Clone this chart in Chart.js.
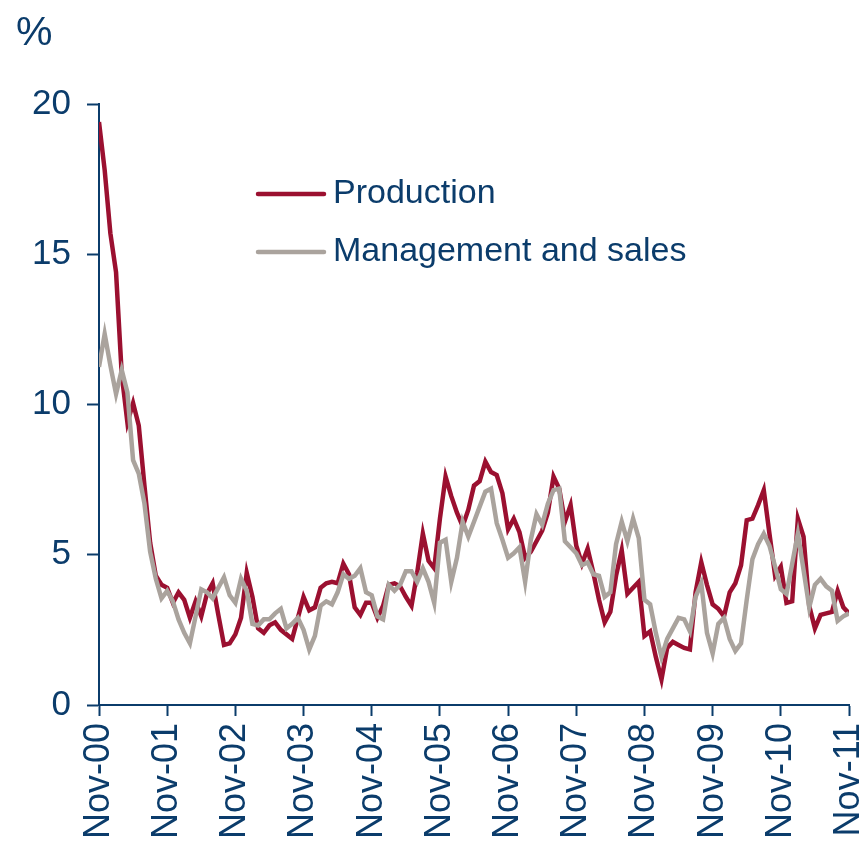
<!DOCTYPE html>
<html>
<head>
<meta charset="utf-8">
<script src="https://cdn.jsdelivr.net/npm/chart.js@4/dist/chart.umd.min.js"></script>
<style>
  html, body { margin: 0; padding: 0; background: #fff; }
  canvas { display: block; }
</style>
</head>
<body>
<canvas id="chart" width="861" height="842"></canvas>
<script>
const yearTicks = ['Nov-00', 'Nov-01', 'Nov-02', 'Nov-03', 'Nov-04', 'Nov-05',
  'Nov-06', 'Nov-07', 'Nov-08', 'Nov-09', 'Nov-10', 'Nov-11'];

const seriesNames = ['Production', 'Management and sales'];

// monthly values, Nov-00 .. Nov-11
const production = [
  19.4, 17.8, 15.7, 14.4, 11.0, 9.4, 10.05, 9.3, 7.3, 5.4,
  4.3, 4.0, 3.9, 3.4, 3.75, 3.5, 2.9, 3.45, 2.95, 3.7,
  4.05, 3.0, 2.0, 2.05, 2.35, 2.9, 4.4, 3.6, 2.55, 2.4,
  2.65, 2.75, 2.5, 2.35, 2.2, 2.9, 3.6, 3.15, 3.25, 3.9,
  4.05, 4.1, 4.05, 4.7, 4.35, 3.25, 3.0, 3.4, 3.4, 2.9,
  3.3, 4.0, 4.05, 3.95, 3.6, 3.3, 4.4, 5.7, 4.8, 4.55,
  6.2, 7.6, 6.95, 6.4, 5.95, 6.5, 7.3, 7.45, 8.1, 7.75,
  7.65, 7.05, 5.85, 6.2, 5.75, 4.9, 5.1, 5.45, 5.8, 6.4,
  7.6, 7.2, 6.1, 6.65, 5.3, 4.7, 5.2, 4.4, 3.5, 2.75,
  3.1, 4.3, 5.15, 3.7, 3.9, 4.1, 2.3, 2.45, 1.6, 0.85,
  1.9, 2.1, 2.0, 1.9, 1.85, 3.75, 4.75, 4.0, 3.35, 3.2,
  2.95, 3.75, 4.05, 4.65, 6.15, 6.2, 6.65, 7.15, 5.7, 4.3,
  4.6, 3.4, 3.45, 6.2, 5.6, 3.3, 2.55, 3.0, 3.05, 3.1,
  3.8, 3.25, 3.05
];

const management = [
  11.25, 12.35, 11.3, 10.35, 11.15, 10.4, 8.15, 7.7, 6.7, 5.1,
  4.2, 3.55, 3.8, 3.45, 2.85, 2.4, 2.05, 2.95, 3.85, 3.75,
  3.55, 3.9, 4.25, 3.65, 3.4, 4.2, 3.8, 2.7, 2.65, 2.85,
  2.85, 3.05, 3.2, 2.55, 2.7, 2.9, 2.5, 1.85, 2.3, 3.3,
  3.45, 3.35, 3.75, 4.35, 4.2, 4.3, 4.55, 3.75, 3.65, 2.95,
  2.85, 4.0, 3.8, 4.0, 4.45, 4.45, 4.1, 4.55, 4.1, 3.4,
  5.4, 5.5, 4.1, 4.9, 6.1, 5.6, 6.1, 6.6, 7.1, 7.2,
  6.05, 5.5, 4.9, 5.05, 5.25, 4.1, 5.5, 6.35, 6.0, 6.7,
  7.15, 7.2, 5.45, 5.25, 5.05, 4.65, 4.75, 4.35, 4.3, 3.6,
  3.75, 5.35, 6.1, 5.45, 6.2, 5.55, 3.5, 3.35, 2.4, 1.6,
  2.2, 2.55, 2.9, 2.85, 2.45, 3.6, 4.05, 2.4, 1.72, 2.7,
  2.9, 2.2, 1.8, 2.05, 3.5, 4.85, 5.35, 5.7, 5.3, 4.6,
  3.85, 3.7, 4.7, 5.7, 4.5, 3.25, 4.0, 4.2, 3.95, 3.8,
  2.8, 2.95, 3.05
];

const navy = '#0b3c6b';
const red = '#9b1030';
const grey = '#aaa39d';
const fontFamily = '"Liberation Sans", Arial, sans-serif';

const toPoints = arr => arr.map((v, i) => ({ x: i, y: v }));

const overlay = {
  id: 'overlay',
  afterDraw(chart) {
    const ctx = chart.ctx;
    const area = chart.chartArea;
    ctx.save();
    ctx.fillStyle = navy;
    ctx.textBaseline = 'middle';
    ctx.textAlign = 'left';
    ctx.font = '41px ' + fontFamily;
    ctx.fillText('%', 16, 34);

    ctx.font = '34px ' + fontFamily;
    chart.data.datasets.forEach((ds, i) => {
      const y = area.top + 90 + i * 58;
      const x = area.left + 159;
      ctx.strokeStyle = ds.borderColor;
      ctx.lineWidth = 4.5;
      ctx.lineCap = 'round';
      ctx.beginPath();
      ctx.moveTo(x, y);
      ctx.lineTo(x + 66, y);
      ctx.stroke();
      ctx.fillStyle = navy;
      ctx.fillText(ds.label, x + 75, y);
    });
    ctx.restore();
  }
};

new Chart(document.getElementById('chart').getContext('2d'), {
  type: 'line',
  data: {
    datasets: [
      {
        label: seriesNames[0],
        data: toPoints(production),
        borderColor: red,
        borderWidth: 4.5,
        pointRadius: 0,
        tension: 0,
        order: 2
      },
      {
        label: seriesNames[1],
        data: toPoints(management),
        borderColor: grey,
        borderWidth: 4.5,
        pointRadius: 0,
        tension: 0,
        order: 1
      }
    ]
  },
  options: {
    responsive: false,
    animation: false,
    layout: { padding: { top: 104, right: 12, left: 0, bottom: 0 } },
    plugins: {
      legend: { display: false },
      tooltip: { enabled: false }
    },
    scales: {
      x: {
        type: 'linear',
        min: 0,
        max: 132,
        border: { color: navy, width: 2 },
        grid: { drawOnChartArea: false, tickLength: 11, tickWidth: 2, tickColor: navy },
        ticks: {
          stepSize: 12,
          autoSkip: false,
          maxRotation: 90,
          minRotation: 90,
          padding: 7,
          color: navy,
          font: { family: fontFamily, size: 36 },
          callback: v => yearTicks[v / 12]
        },
        afterFit: s => { s.height = 137; s.paddingLeft = 0; s.paddingRight = 0; }
      },
      y: {
        min: 0,
        max: 20,
        border: { color: navy, width: 2 },
        grid: { drawOnChartArea: false, tickLength: 12, tickWidth: 2, tickColor: navy },
        ticks: {
          stepSize: 5,
          padding: 16,
          color: navy,
          font: { family: fontFamily, size: 35 }
        },
        afterFit: s => { s.width = 99; s.paddingTop = 0; s.paddingBottom = 0; }
      }
    }
  },
  plugins: [overlay]
});
</script>
</body>
</html>
